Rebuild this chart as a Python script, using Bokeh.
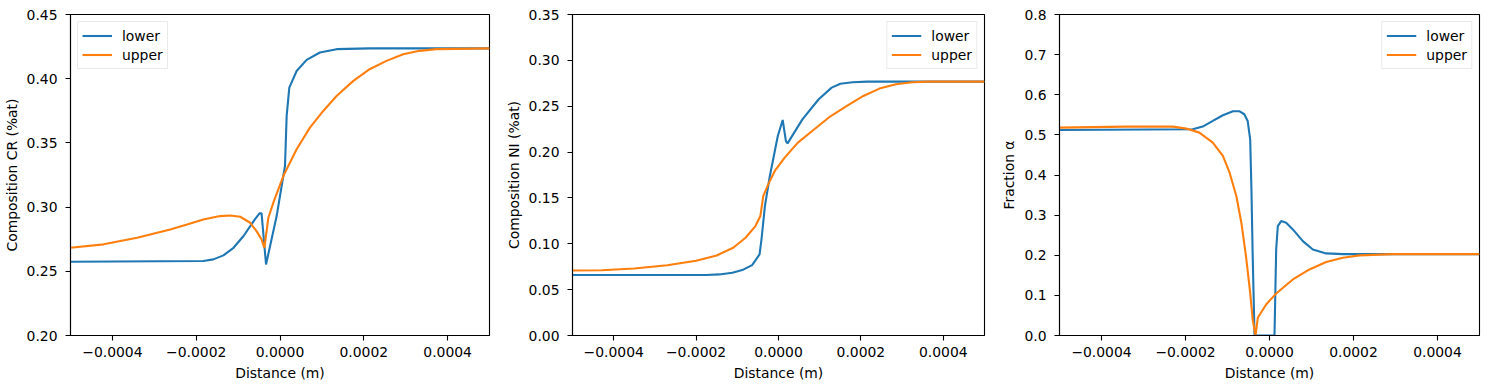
from bokeh.plotting import figure
from bokeh.layouts import row
from bokeh.models import Range1d, FixedTicker, Legend, LegendItem
from bokeh.embed import file_html
from bokeh.resources import INLINE

# ---------------- data ----------------
xticks = [-0.0004, -0.0002, 0.0, 0.0002, 0.0004]
xtick_labels = ["\u22120.0004", "\u22120.0002", "0.0000", "0.0002", "0.0004"]

cr_yticks = [0.20, 0.25, 0.30, 0.35, 0.40, 0.45]
cr_ytick_labels = ["0.20", "0.25", "0.30", "0.35", "0.40", "0.45"]
ni_yticks = [0.00, 0.05, 0.10, 0.15, 0.20, 0.25, 0.30, 0.35]
ni_ytick_labels = ["0.00", "0.05", "0.10", "0.15", "0.20", "0.25", "0.30", "0.35"]
fr_yticks = [0.0, 0.1, 0.2, 0.3, 0.4, 0.5, 0.6, 0.7, 0.8]
fr_ytick_labels = ["0.0", "0.1", "0.2", "0.3", "0.4", "0.5", "0.6", "0.7", "0.8"]

cr_lower_x = [-0.0005, -0.000183, -0.000159, -0.000135, -0.000111, -0.000087, -0.000071,
              -0.00006, -0.000049, -0.000044, -0.0000333, -0.000008, 0.0000119,
              0.0000159, 0.0000222, 0.0000397, 0.0000635, 0.0000952, 0.000135,
              0.000214, 0.0005]
cr_lower_y = [0.2574, 0.2580, 0.2593, 0.2624, 0.2683, 0.2775, 0.2852,
              0.2904, 0.2951, 0.2951, 0.2553, 0.2930, 0.3320,
              0.3710, 0.3931, 0.4060, 0.4147, 0.4204, 0.4230,
              0.4236, 0.4236]
cr_upper_x = [-0.0005, -0.000421, -0.000341, -0.000262, -0.000222, -0.000183, -0.000143,
              -0.000119, -0.000095, -0.000071, -0.000056, -0.000044, -0.0000373,
              -0.0000278, -0.0000159, 0.0000079, 0.0000397, 0.0000714, 0.0001032,
              0.000135, 0.000175, 0.000214, 0.000254, 0.000294, 0.000333, 0.000373,
              0.0005]
cr_upper_y = [0.2683, 0.2710, 0.2761, 0.2826, 0.2865, 0.2904, 0.2930,
              0.2935, 0.2925, 0.2878, 0.2813, 0.2748, 0.2683,
              0.2917, 0.3034, 0.3242, 0.3450, 0.3619, 0.3749,
              0.3865, 0.3983, 0.4074, 0.4139, 0.4191, 0.4217, 0.4230,
              0.4236]

ni_lower_x = [-0.0005, -0.000175, -0.000144, -0.000112, -0.000088, -0.000064, -0.000046,
              -0.000041, -0.000033, -0.000021, -0.0000017, 0.0000102, 0.000018, 0.000022,
              0.000058, 0.0000976, 0.000129, 0.00015, 0.00018, 0.000215, 0.0005]
ni_lower_y = [0.0659, 0.0660, 0.0666, 0.0684, 0.0713, 0.0767, 0.0884,
              0.1060, 0.1411, 0.1739, 0.2175, 0.2350, 0.2120, 0.2095,
              0.2357, 0.2576, 0.2703, 0.2745, 0.2762, 0.2768, 0.2768]
ni_upper_x = [-0.0005, -0.000429, -0.00035, -0.00027, -0.0002, -0.00015, -0.00011,
              -0.00008, -0.000056, -0.000044, -0.000037, -0.000025, -0.000009,
              0.000015, 0.000047, 0.000087, 0.000126, 0.000166, 0.000206, 0.000245,
              0.000285, 0.000325, 0.000364, 0.0005]
ni_upper_y = [0.0709, 0.0712, 0.0730, 0.0766, 0.0815, 0.0873, 0.0957,
              0.1066, 0.1193, 0.1302, 0.1520, 0.1648, 0.1794,
              0.1940, 0.2103, 0.2249, 0.2390, 0.2503, 0.2612, 0.2692,
              0.2740, 0.2761, 0.2768, 0.2768]

fr_lower_x = [-0.0005, -0.000183, -0.000159, -0.000135, -0.000111, -0.000087, -0.000071,
              -0.00006, -0.000052, -0.000046, -0.000043, -0.00004, -0.0000357, -0.0000317,
              0.0000119, 0.0000159, 0.0000198, 0.0000278, 0.0000397, 0.0000556,
              0.0000794, 0.0001032, 0.000135, 0.000175, 0.0005]
fr_lower_y = [0.5123, 0.5140, 0.5206, 0.5347, 0.5489, 0.5588, 0.5588,
              0.5514, 0.5347, 0.4890, 0.3642, 0.1979, 0.0025, 0.0,
              0.0, 0.2145, 0.2728, 0.2852, 0.2811, 0.2644,
              0.2353, 0.2145, 0.2046, 0.2029, 0.2029]
fr_upper_x = [-0.0005, -0.000341, -0.00023, -0.000198, -0.000167, -0.000135, -0.000111,
              -0.000095, -0.000079, -0.000067, -0.000056, -0.000046, -0.00004, -0.0000333,
              -0.0000278, -0.000008, 0.0000159, 0.0000556, 0.0000952, 0.000135,
              0.000175, 0.000214, 0.000294, 0.0005]
fr_upper_y = [0.5181, 0.5206, 0.5206, 0.5156, 0.5056, 0.4806, 0.4474,
              0.4058, 0.3476, 0.2811, 0.1979, 0.1064, 0.0399, 0.0,
              0.0441, 0.0773, 0.1048, 0.1397, 0.1647, 0.1830,
              0.1938, 0.1996, 0.2029, 0.2029]

BLUE = "#1f77b4"
ORANGE = "#ff7f0e"
FONT = "DejaVu Sans"
FS = "13.9px"


def make_panel(ylabel, yr, yticks, ylabels, lx, ly, ux, uy, legend_loc, left_border, right_border):
    p = figure(width=left_border + 420 + right_border, height=14 + 321 + 51,
               x_range=Range1d(-0.0005, 0.0005), y_range=Range1d(*yr),
               output_backend="svg", toolbar_location=None,
               min_border_left=left_border, min_border_right=right_border,
               min_border_top=14, min_border_bottom=51)
    p.grid.visible = False
    p.outline_line_color = "black"
    p.outline_line_width = 1.1
    p.outline_line_alpha = 1.0

    p.xaxis.ticker = FixedTicker(ticks=xticks)
    p.xaxis.major_label_overrides = dict(zip(xticks, xtick_labels))
    p.yaxis.ticker = FixedTicker(ticks=yticks)
    p.yaxis.major_label_overrides = dict(zip(yticks, ylabels))
    for ax in (p.xaxis[0], p.yaxis[0]):
        ax.minor_tick_line_color = None
        ax.major_tick_in = 0
        ax.major_tick_out = 5
        ax.major_tick_line_width = 1.1
        ax.major_tick_line_color = "black"
        ax.axis_line_color = "black"
        ax.axis_line_width = 1.1
        ax.major_label_text_font = FONT
        ax.major_label_text_font_size = FS
        ax.major_label_text_color = "black"
        ax.axis_label_text_font = FONT
        ax.axis_label_text_font_size = FS
        ax.axis_label_text_font_style = "normal"
        ax.axis_label_text_color = "black"
    p.xaxis.major_label_standoff = 6
    p.xaxis.axis_label_standoff = 5
    p.yaxis.major_label_standoff = 8
    p.yaxis.axis_label_standoff = 4
    p.xaxis.axis_label = "Distance (m)"
    p.yaxis.axis_label = ylabel

    r1 = p.line(lx, ly, line_color=BLUE, line_width=2.1)
    r2 = p.line(ux, uy, line_color=ORANGE, line_width=2.1)
    leg = Legend(items=[LegendItem(label="lower", renderers=[r1]),
                        LegendItem(label="upper", renderers=[r2])],
                 location=legend_loc)
    leg.margin = 7
    leg.padding = 4
    leg.spacing = 0
    leg.glyph_width = 30
    leg.glyph_height = 19
    leg.label_height = 19
    leg.label_standoff = 10
    leg.label_text_font = FONT
    leg.label_text_font_size = FS
    leg.label_text_color = "black"
    leg.border_line_color = "#d6d6d6"
    leg.border_line_width = 1
    leg.background_fill_alpha = 0.8
    p.add_layout(leg)
    return p


p1 = make_panel("Composition CR (%at)", (0.20, 0.45), cr_yticks, cr_ytick_labels,
                cr_lower_x, cr_lower_y, cr_upper_x, cr_upper_y, "top_left", 69, 13)
p2 = make_panel("Composition NI (%at)", (0.0, 0.35), ni_yticks, ni_ytick_labels,
                ni_lower_x, ni_lower_y, ni_upper_x, ni_upper_y, "top_right", 62, 13)
p3 = make_panel("Fraction \u03b1", (0.0, 0.8), fr_yticks, fr_ytick_labels,
                fr_lower_x, fr_lower_y, fr_upper_x, fr_upper_y, "top_right", 62, 2)

layout = row(p1, p2, p3)
open("out.html", "w").write(file_html(layout, INLINE))
